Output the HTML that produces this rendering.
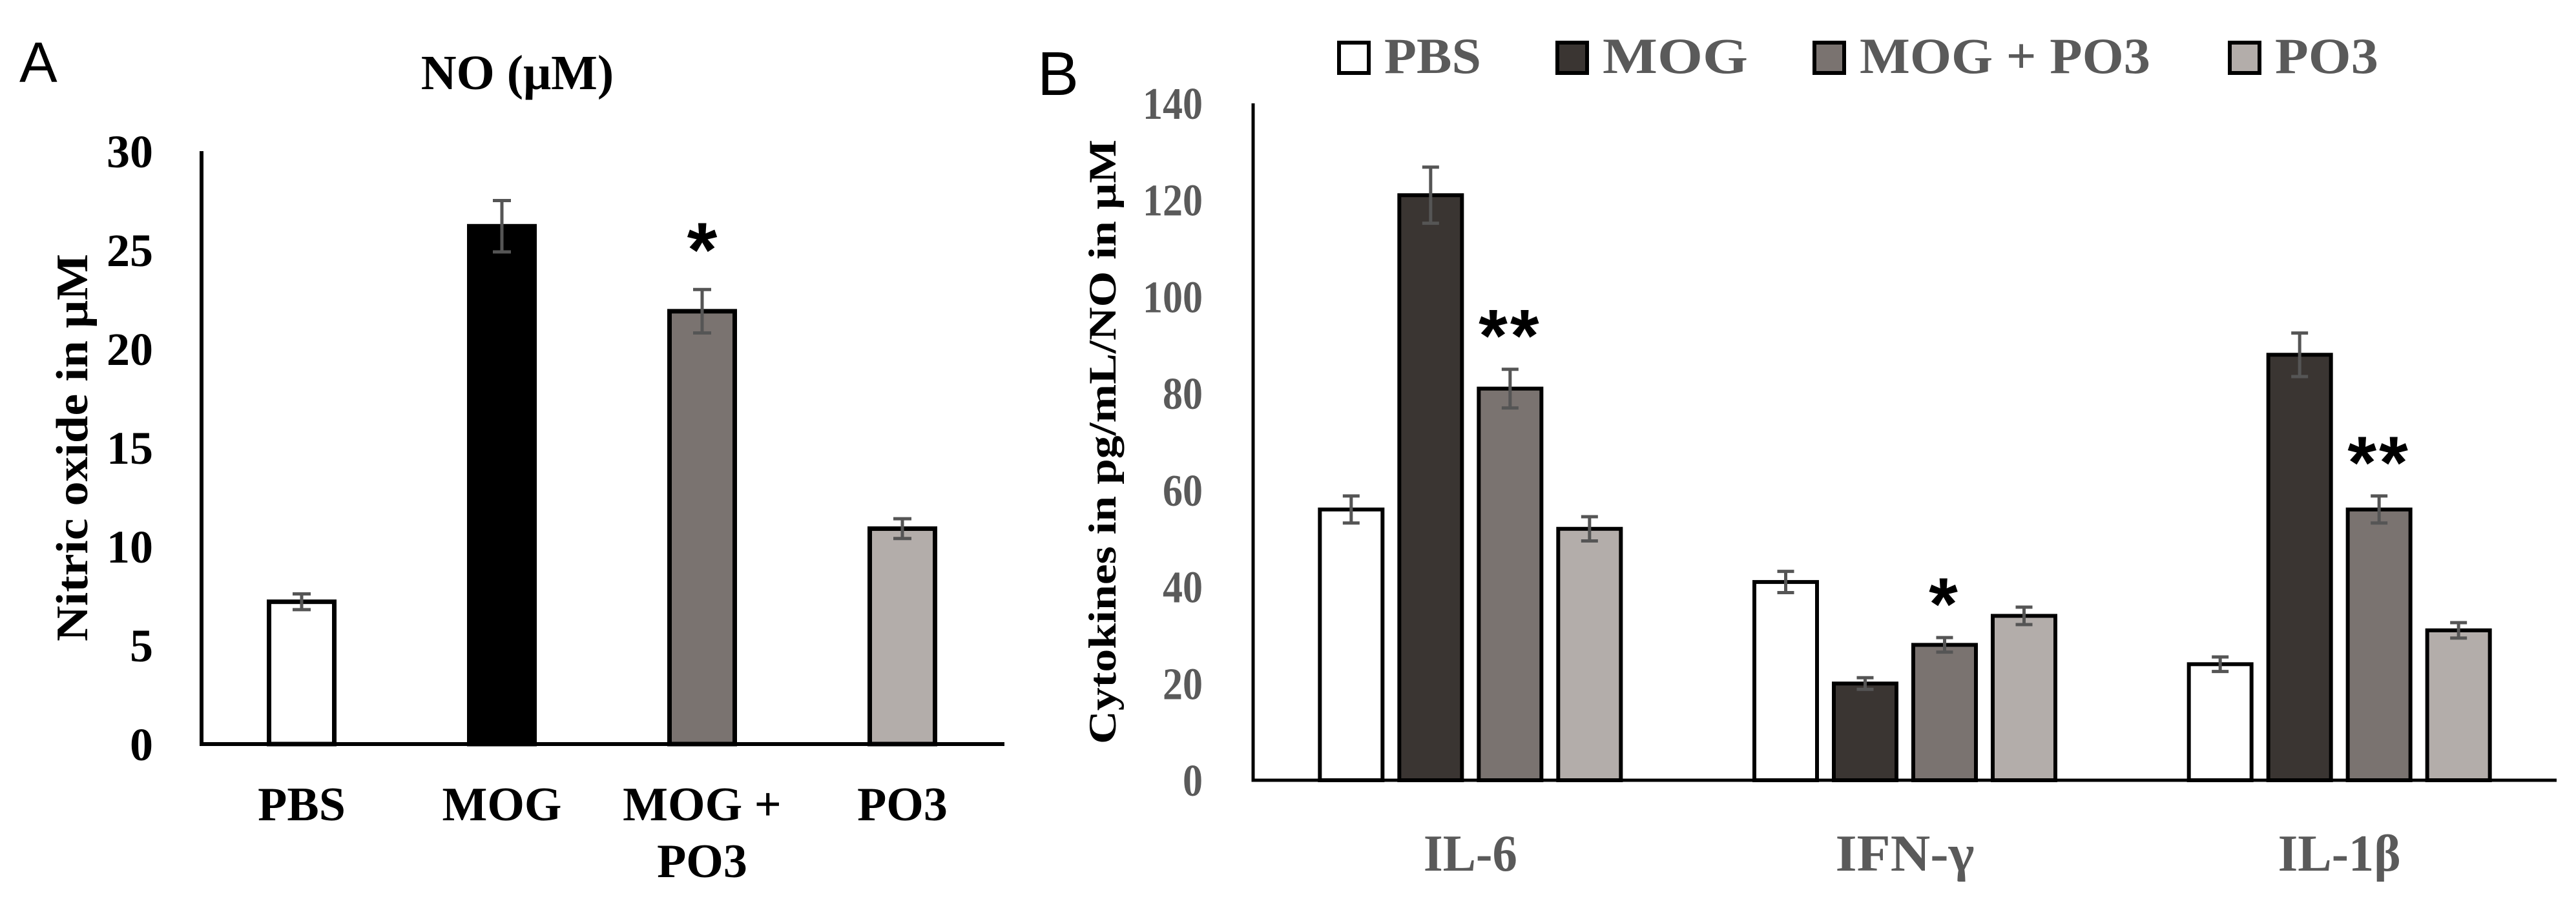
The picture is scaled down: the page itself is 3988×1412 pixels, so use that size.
<!DOCTYPE html>
<html><head><meta charset="utf-8"><style>
html,body{margin:0;padding:0;background:#fff;}
svg{display:block;}
</style></head><body>
<svg id="fig" width="3988" height="1412" viewBox="0 0 3988 1412" xmlns="http://www.w3.org/2000/svg">
<rect width="3988" height="1412" fill="#fff"/>
<g id="pa"></g>
<g id="pb"></g>
</svg>
<script>
// Panel A data
const catsA = ["PBS","MOG","MOG +|PO3","PO3"];
const valsA = [7.2, 26.2, 21.9, 10.9];
const errsA = [0.4, 1.3, 1.1, 0.5];
const ticksA = [0,5,10,15,20,25,30];
const starsA = ["", "", "*", ""];
// Panel B data
const catsB = ["IL-6","IFN-γ","IL-1β"];
const seriesB = ["PBS","MOG","MOG + PO3","PO3"];
const pbsB = [56, 41, 24];
const mogB = [121, 20, 88];
const mogpoB = [81, 28, 56];
const po3B = [52, 34, 31];
const errPbsB = [2.8, 2.2, 1.5];
const errMogB = [5.8, 1.2, 4.5];
const errMogpoB = [4.0, 1.5, 2.8];
const errPo3B = [2.5, 1.8, 1.6];
const ticksB = [0,20,40,60,80,100,120,140];
const starsB = ["**", "*", "**"];

const NS="http://www.w3.org/2000/svg";
function mk(parent, tag, attrs, text){
  const e=document.createElementNS(NS,tag);
  for(const k in attrs) e.setAttribute(k, attrs[k]);
  if(text!==undefined) e.textContent=text;
  parent.appendChild(e);
  return e;
}
const serif='"Liberation Serif", serif';
const sans='"Liberation Sans", sans-serif';

// ---------- Panel A ----------
(function(){
  const g=document.getElementById('pa');
  const x0=312, x1=1555, yTop=234, yBase=1152, yMax=30;
  const y=v=>yBase-(v/yMax)*(yBase-yTop);
  const cw=(1552-x0)/catsA.length;
  const cx=i=>x0+cw*(i+0.5);
  const fillsA=["#ffffff","#000000","#7a7370","#b3adaa"];
  let t=mk(g,'text',{x:30,y:127,'font-family':sans,'font-size':88,fill:'#000'},'A');
   
  t=mk(g,'text',{x:801,y:138,'font-family':serif,'font-size':76,'font-weight':'bold','text-anchor':'middle'},'NO (μM)');
   
  t=mk(g,'text',{x:0,y:0,transform:'translate(135,693) rotate(-90)','font-family':serif,'font-size':70,'font-weight':'bold','text-anchor':'middle',textLength:600,lengthAdjust:'spacingAndGlyphs'},'Nitric oxide in μM');
   
  ticksA.forEach(v=>{
    const e=mk(g,'text',{x:237,y:y(v)+25,'font-family':serif,'font-size':72,'font-weight':'bold','text-anchor':'end'},String(v));
     
  });
  valsA.forEach((v,i)=>{
    const bw=101;
    const r=mk(g,'rect',{x:cx(i)-bw/2,y:y(v),width:bw,height:yBase-y(v),fill:fillsA[i],stroke:'#000','stroke-width':7});
    
    
    const e=errsA[i];
    const eb=mk(g,'path',{d:`M${cx(i)} ${y(v+e)}V${y(v-e)}M${cx(i)-14} ${y(v+e)}H${cx(i)+14}M${cx(i)-14} ${y(v-e)}H${cx(i)+14}`,stroke:'#555','stroke-width':5,fill:'none'});
     
    if(starsA[i]){
      const s=mk(g,'text',{x:cx(i),y:y(v+e)-20,'font-family':sans,'font-size':120,'font-weight':'bold','text-anchor':'middle'},starsA[i]);
       
    }
    const lines=catsA[i].split('|');
    lines.forEach((ln,k)=>{
      const l=mk(g,'text',{x:cx(i),y:1270+k*88,'font-family':serif,'font-size':74,'font-weight':'bold','text-anchor':'middle'},ln);
       
    });
  });
  const ax=mk(g,'path',{d:`M${x0} ${yTop}V${yBase}H${x1}`,stroke:'#000','stroke-width':6,fill:'none'});
   
})();

// ---------- Panel B ----------
(function(){
  const g=document.getElementById('pb');
  const x0=1940, x1=3958, yTop=160, yBase=1208, yMax=140;
  const y=v=>yBase-(v/yMax)*(yBase-yTop);
  const cw=(x1-x0)/catsB.length;
  const cx=i=>x0+cw*(i+0.5);
  const fillsB=["#ffffff","#3a3532","#7a7370","#b3adaa"];
  const vals=[pbsB,mogB,mogpoB,po3B];
  const errs=[errPbsB,errMogB,errMogpoB,errPo3B];
  let t=mk(g,'text',{x:1606,y:147,'font-family':sans,'font-size':96,fill:'#000'},'B');
   
  // legend
  const legX=[2070,2408,2806,3449];
  const legW=[150,225,450,160];
  seriesB.forEach((s,i)=>{
    const r=mk(g,'rect',{x:legX[i]+3,y:66,width:46,height:47,fill:fillsB[i],stroke:'#000','stroke-width':6});
     
    const tx=mk(g,'text',{x:legX[i]+73,y:113,'font-family':serif,'font-size':78,'font-weight':'bold',fill:'#5a5a5a',textLength:legW[i],lengthAdjust:'spacingAndGlyphs'},s);
     
  });
  t=mk(g,'text',{x:0,y:0,transform:'translate(1727,684) rotate(-90)','font-family':serif,'font-size':60,'font-weight':'bold','text-anchor':'middle',textLength:936,lengthAdjust:'spacingAndGlyphs'},'Cytokines in pg/mL/NO in μM');
   
  ticksB.forEach(v=>{
    const e=mk(g,'text',{x:1862,y:y(v)+24,'font-family':serif,'font-size':70,'font-weight':'bold',fill:'#5a5a5a','text-anchor':'end',textLength:String(v).length*31,lengthAdjust:'spacingAndGlyphs'},String(v));
     
  });
  const catW=[145,215,190];
  catsB.forEach((c,ci)=>{
    vals.forEach((arr,si)=>{
      const v=arr[ci], e=errs[si][ci];
      const bx=cx(ci)+(si-1.5)*123;
      const bw=97;
      const r=mk(g,'rect',{x:bx-bw/2,y:y(v),width:bw,height:yBase-y(v),fill:fillsB[si],stroke:'#000','stroke-width':6});
      
      
      const eb=mk(g,'path',{d:`M${bx} ${y(v+e)}V${y(v-e)}M${bx-13} ${y(v+e)}H${bx+13}M${bx-13} ${y(v-e)}H${bx+13}`,stroke:'#555','stroke-width':5,fill:'none'});
       
      if(si===2 && starsB[ci]){
        const s=mk(g,'text',{x:bx,y:y(v+e)-12,'font-family':sans,'font-size':115,'font-weight':'bold','text-anchor':'middle','letter-spacing':4},starsB[ci]);
         
      }
    });
    const l=mk(g,'text',{x:cx(ci),y:1348,'font-family':serif,'font-size':80,'font-weight':'bold',fill:'#5a5a5a','text-anchor':'middle',textLength:catW[ci],lengthAdjust:'spacingAndGlyphs'},c);
     
  });
  const ax=mk(g,'path',{d:`M${x0} ${yTop}V${yBase}H${x1}`,stroke:'#000','stroke-width':5,fill:'none'});
   
})();
</script>
</body></html>
